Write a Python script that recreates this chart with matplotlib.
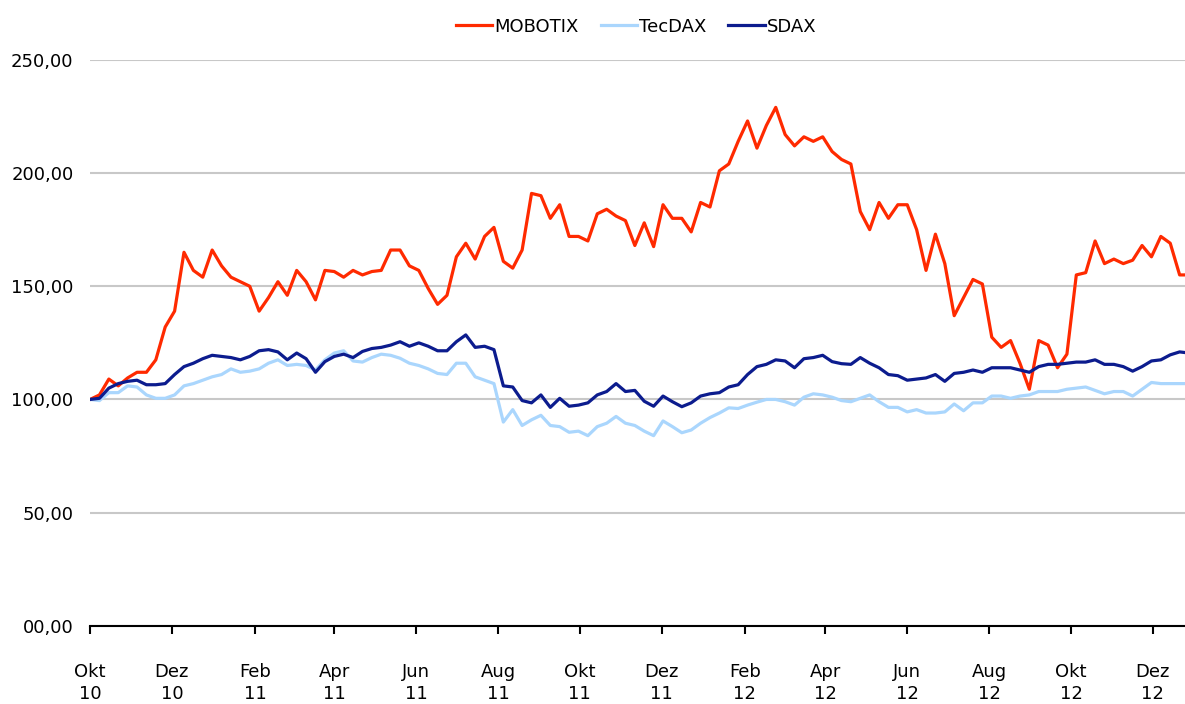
"""
MOBOTIX share price against TecDAX and SDAX, indexed to 100 (Okt 2010 - Dez 2012).
Weekly values read off the original chart.
"""
import numpy as np
import pandas as pd
import matplotlib
matplotlib.use('Agg')
import matplotlib.pyplot as plt
from matplotlib.ticker import FuncFormatter

start = '2010-10-01'

mobotix = [100, 102, 109, 106, 109.5, 112, 112, 117.5, 132, 139,
           165, 157, 154, 166, 159, 154, 152, 150, 139, 145,
           152, 146, 157, 152, 144, 157, 156.5, 154, 157, 155,
           156.5, 157, 166, 166, 159, 157, 149, 142, 146, 163,
           169, 162, 172, 176, 161, 158, 166, 191, 190, 180,
           186, 172, 172, 170, 182, 184, 181, 179, 168, 178,
           167.5, 186, 180, 180, 174, 187, 185, 201, 204, 214,
           223, 211, 221, 229, 217, 212, 216, 214, 216, 209.5,
           206, 204, 183, 175, 187, 180, 186, 186, 175, 157,
           173, 160, 137, 145, 153, 151, 127.5, 123, 126, 116,
           104.5, 126, 124, 114, 120, 155, 156, 170, 160, 162,
           160, 161.5, 168, 163, 172, 169, 155, 155]

tecdax = [100, 99.5, 103, 103, 106, 105.5, 102, 100.5, 100.5, 102,
          106, 107, 108.5, 110, 111, 113.5, 112, 112.5, 113.5, 116,
          117.5, 115, 115.5, 115, 113, 117.5, 120.5, 121.5, 117, 116.5,
          118.5, 120, 119.5, 118.2, 116, 115, 113.5, 111.5, 111, 116,
          116, 110, 108.5, 107, 90, 95.5, 88.5, 91, 93, 88.5,
          88, 85.5, 86, 84, 88, 89.5, 92.5, 89.5, 88.5, 86,
          84, 90.5, 88, 85.3, 86.5, 89.5, 92, 94, 96.3, 96,
          97.5, 98.8, 100, 100, 99, 97.5, 101, 102.5, 102, 101,
          99.5, 99, 100.5, 102, 99, 96.5, 96.5, 94.5, 95.5, 94,
          94, 94.5, 98, 95, 98.5, 98.5, 101.5, 101.5, 100.5, 101.5,
          102, 103.5, 103.5, 103.5, 104.5, 105, 105.5, 104, 102.5, 103.5,
          103.5, 101.5, 104.5, 107.5, 107, 107, 107, 107]

sdax = [100, 100.5, 105, 107, 108, 108.5, 106.5, 106.5, 107, 111,
        114.5, 116, 118, 119.5, 119, 118.5, 117.5, 119, 121.5, 122,
        121, 117.5, 120.5, 118, 112, 116.7, 119, 120, 118.5, 121.2,
        122.5, 123, 124, 125.5, 123.5, 125, 123.5, 121.5, 121.5, 125.5,
        128.5, 123, 123.5, 122, 106, 105.5, 99.5, 98.5, 102, 96.5,
        100.5, 97, 97.5, 98.5, 102, 103.5, 107, 103.5, 104, 99.2,
        97, 101.5, 99, 96.8, 98.5, 101.5, 102.5, 103, 105.5, 106.5,
        111, 114.5, 115.5, 117.5, 117, 114, 118, 118.5, 119.5, 116.7,
        115.8, 115.5, 118.5, 116, 114, 111, 110.5, 108.5, 109, 109.5,
        111, 108, 111.5, 112, 113, 112, 114, 114, 114, 113,
        112, 114.5, 115.5, 115.5, 116, 116.5, 116.5, 117.5, 115.5, 115.5,
        114.5, 112.5, 114.5, 117, 117.5, 119.7, 121, 120.5]

tick_dates = ['2010-10-01', '2010-12-01', '2011-02-01', '2011-04-01',
              '2011-06-01', '2011-08-01', '2011-10-01', '2011-12-01',
              '2012-02-01', '2012-04-01', '2012-06-01', '2012-08-01',
              '2012-10-01', '2012-12-01']
tick_labels = ['Okt\n10', 'Dez\n10', 'Feb\n11', 'Apr\n11', 'Jun\n11',
               'Aug\n11', 'Okt\n11', 'Dez\n11', 'Feb\n12', 'Apr\n12',
               'Jun\n12', 'Aug\n12', 'Okt\n12', 'Dez\n12']

dates = pd.date_range(start, periods=len(mobotix), freq='7D')

plt.rcParams['font.family'] = ['DejaVu Sans']
plt.rcParams['font.size'] = 13

fig = plt.figure(figsize=(11.85, 7.04), dpi=100)
ax = fig.add_axes([0.076, 0.111, 0.924, 0.804])

ax.plot(dates, mobotix, color='#ff2a00', lw=2.3, label='MOBOTIX')
ax.plot(dates, tecdax, color='#aad6fd', lw=2.3, label='TecDAX')
ax.plot(dates, sdax, color='#0c1c8e', lw=2.3, label='SDAX')

ax.set_ylim(0, 250)
ax.set_yticks([0, 50, 100, 150, 200, 250])
ax.yaxis.set_major_formatter(FuncFormatter(lambda v, p: ('%05.2f' % v).replace('.', ',')))
ax.grid(axis='y', color='#c8c8c8', lw=1.5)
ax.set_axisbelow(True)

ax.set_xlim(pd.Timestamp(start), pd.Timestamp('2012-12-25'))
ax.set_xticks(pd.to_datetime(tick_dates))
ax.set_xticklabels(tick_labels, linespacing=1.25)

for s in ['left', 'right', 'top']:
    ax.spines[s].set_visible(False)
ax.spines['bottom'].set_linewidth(1.5)
ax.tick_params(axis='y', length=0, pad=12)
ax.tick_params(axis='x', length=6, width=1.5, direction='out', pad=21)

fig.legend(loc='center', bbox_to_anchor=(0.537, 0.962), ncol=3, frameon=False,
           handlelength=2.0, handletextpad=0.15, columnspacing=1.2)

fig.savefig('out.png', dpi=100)
